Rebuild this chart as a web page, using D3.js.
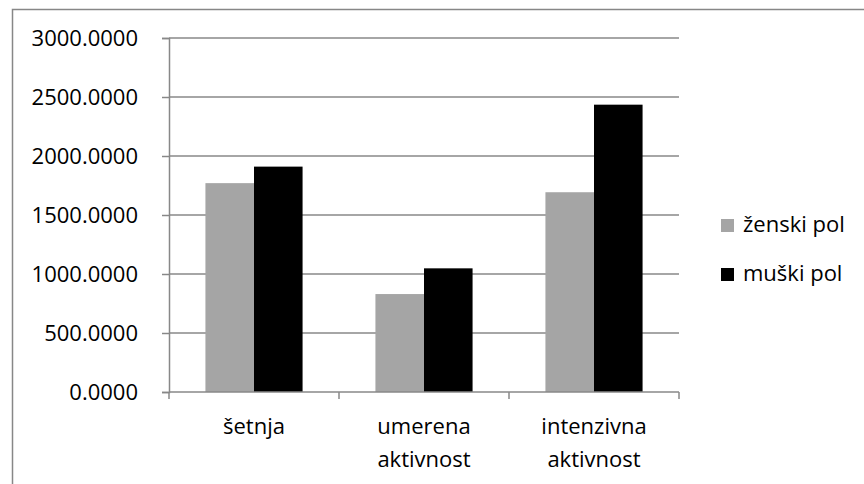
<!DOCTYPE html>
<html>
<head>
<meta charset="utf-8">
<script src="https://cdn.jsdelivr.net/npm/d3@7"></script>
<style>
  html, body { margin: 0; padding: 0; background: #fff; }
  svg { display: block; }
  text { font-family: "Open Sans", "Liberation Sans", sans-serif; fill: #000; }
</style>
</head>
<body>
<svg id="chart" width="864" height="484"></svg>
<script>
// Activity categories (two-line labels) and per-sex values
const categories = ["šetnja", "umerena aktivnost", "intenzivna aktivnost"];
const categoryLines = [["šetnja"], ["umerena", "aktivnost"], ["intenzivna", "aktivnost"]];
const seriesNames = ["ženski pol", "muški pol"];
const zenskiPol = [1770, 830, 1693];
const muskiPol = [1910, 1048, 2435];
const yTicks = [0, 500, 1000, 1500, 2000, 2500, 3000];
const seriesColors = ["#a5a5a5", "#000000"];

const svg = d3.select("#chart");
const W = 864, H = 484;
const plot = { left: 169, right: 679, top: 38, bottom: 392 };
const fontSize = 22;

// Outer chart frame
svg.append("rect")
  .attr("x", 12.5).attr("y", 9.5)
  .attr("width", W).attr("height", H)
  .attr("fill", "none").attr("stroke", "#878787").attr("stroke-width", 1.5);

const x0 = d3.scaleBand().domain(categories).range([plot.left, plot.right]).paddingInner(0).paddingOuter(0);
// Bars take 2 of 3.5 units in each category (150% gap)
const groupPad = 0.75 / 3.5;
const x1 = d3.scaleBand().domain(seriesNames)
  .range([x0.bandwidth() * groupPad, x0.bandwidth() * (1 - groupPad)]).padding(0);
const y = d3.scaleLinear().domain([0, 3000]).range([plot.bottom, plot.top]);

// Horizontal gridlines
svg.append("g").selectAll("line").data(yTicks.filter(d => d > 0)).join("line")
  .attr("x1", plot.left).attr("x2", plot.right)
  .attr("y1", d => y(d)).attr("y2", d => y(d))
  .attr("stroke", "#888").attr("stroke-width", 1.5);

// Bars
const rows = categories.map((c, i) => ({ cat: c, vals: [zenskiPol[i], muskiPol[i]] }));
const groups = svg.append("g").selectAll("g").data(rows).join("g")
  .attr("transform", d => `translate(${x0(d.cat)},0)`);
groups.selectAll("rect").data(d => d.vals.map((v, j) => ({ name: seriesNames[j], v, j }))).join("rect")
  .attr("x", d => x1(d.name))
  .attr("width", x1.bandwidth())
  .attr("y", d => y(d.v))
  .attr("height", d => y(0) - y(d.v))
  .attr("fill", d => seriesColors[d.j]);

// Y axis
const yAxis = svg.append("g").attr("transform", `translate(${plot.left},0)`)
  .call(d3.axisLeft(y).tickValues(yTicks).tickFormat(d3.format(".4f")).tickSize(7).tickPadding(24));
yAxis.select(".domain").attr("stroke", "#888").attr("stroke-width", 1.5);
yAxis.selectAll(".tick line").attr("stroke", "#888").attr("stroke-width", 1.5);
yAxis.selectAll(".tick text")
  .style("font-family", "'Open Sans', sans-serif").attr("font-size", fontSize).attr("fill", "#000");

// X axis baseline and category tick marks
svg.append("line")
  .attr("x1", plot.left).attr("x2", plot.right)
  .attr("y1", plot.bottom).attr("y2", plot.bottom)
  .attr("stroke", "#888").attr("stroke-width", 1.5);
const bounds = categories.map(c => x0(c)).concat([plot.right]);
svg.append("g").selectAll("line").data(bounds).join("line")
  .attr("x1", d => d).attr("x2", d => d)
  .attr("y1", plot.bottom).attr("y2", plot.bottom + 7)
  .attr("stroke", "#888").attr("stroke-width", 1.5);

// Category labels
const catLabels = svg.append("g").selectAll("text").data(categories).join("text")
  .attr("text-anchor", "middle")
  .attr("font-size", fontSize)
  .attr("x", d => x0(d) + x0.bandwidth() / 2)
  .attr("y", 434);
catLabels.each(function(d, i) {
  const t = d3.select(this);
  categoryLines[i].forEach((line, k) => {
    t.append("tspan").attr("x", x0(d) + x0.bandwidth() / 2).attr("dy", k === 0 ? 0 : 33).text(line);
  });
});

// Legend
const legend = svg.append("g").selectAll("g").data(seriesNames).join("g")
  .attr("transform", (d, i) => `translate(721,${219 + i * 49})`);
legend.append("rect").attr("width", 13).attr("height", 13)
  .attr("fill", (d, i) => seriesColors[i]);
legend.append("text").attr("x", 22).attr("y", 13).attr("font-size", fontSize).text(d => d);
</script>
</body>
</html>
